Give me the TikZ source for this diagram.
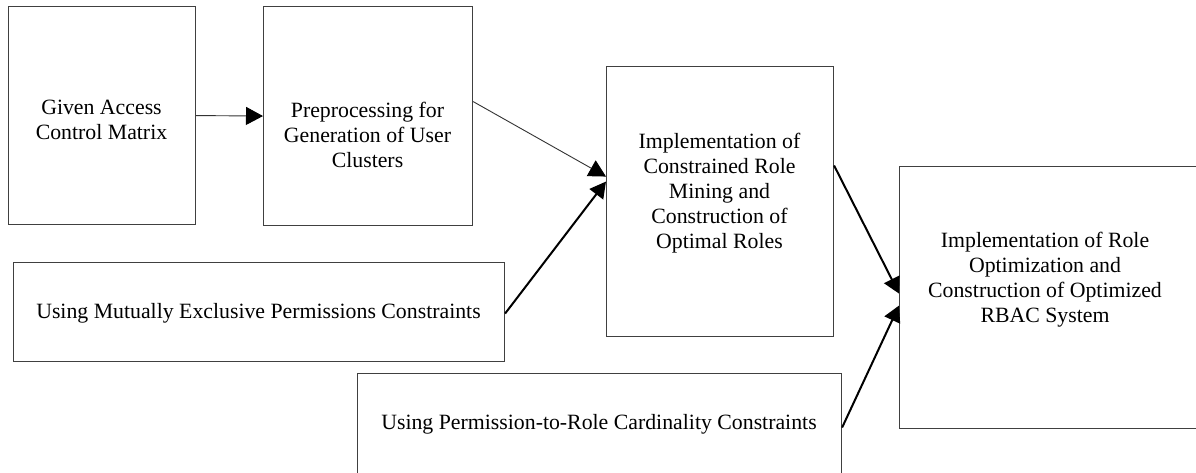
\documentclass[tikz,border=0pt]{standalone}
\usepackage{fontspec}
\setmainfont{Liberation Serif}
\usetikzlibrary{arrows.meta}
\begin{document}
\begin{tikzpicture}[x=1pt,y=-1pt,
  box/.style={draw=black!75, line width=1.1pt, anchor=north west, inner sep=0pt, rectangle},
  lbl/.style={align=center, inner sep=0pt, font=\fontsize{21.8}{25}\selectfont},
  thin arrow/.style={draw=black!80, line width=0.9pt, -{Triangle[length=17pt,width=18pt,color=black]}},
  thick arrow/.style={draw=black, line width=2pt, -{Triangle[length=16pt,width=17pt,color=black]}}]
\useasboundingbox (0,0) rectangle (1196,472);
\fill[white] (0,0) rectangle (1196,472);
% boxes
\node[box, minimum width=187pt, minimum height=218pt] (b1) at (8,6) {};
\node[box, minimum width=209pt, minimum height=219pt] (b2) at (263,6) {};
\node[box, minimum width=227pt, minimum height=270pt] (b3) at (606,66) {};
\node[box, minimum width=301pt, minimum height=262pt] (b4) at (899,166) {};
\node[box, minimum width=491pt, minimum height=99pt] (b5) at (13,262) {};
\node[box, minimum width=484pt, minimum height=102pt] (b6) at (357,373) {};
% labels
\node[lbl] (t1) at (101.5,120) {Given Access\\Control Matrix};
\node[lbl] (t2) at (367.5,135) {Preprocessing for\\Generation of User\\Clusters};
\node[lbl] (t3) at (719.5,193) {Implementation of\\Constrained Role\\Mining and\\Construction of\\Optimal Roles};
\node[lbl] (t4) at (1045,280) {Implementation of Role\\Optimization and\\Construction of Optimized\\RBAC System};
\node[lbl] (t5) at (258.5,313) {Using Mutually Exclusive Permissions Constraints};
\node[lbl] (t6) at (599,424) {Using Permission-to-Role Cardinality Constraints};
% connectors
\draw[thin arrow] (b1.east) -- (b2.west);
\draw[thin arrow] ([yshift=14.5pt]b2.east) -- ([yshift=25pt]b3.west);
\draw[thick arrow] ([yshift=-1.5pt]b5.east) -- ([yshift=20pt]b3.west);
\draw[thick arrow] ([yshift=36pt]b3.east) -- ([yshift=4pt]b4.west);
\draw[thick arrow] ([yshift=-3pt]b6.east) -- ([yshift=-8pt]b4.west);
\end{tikzpicture}
\end{document}
